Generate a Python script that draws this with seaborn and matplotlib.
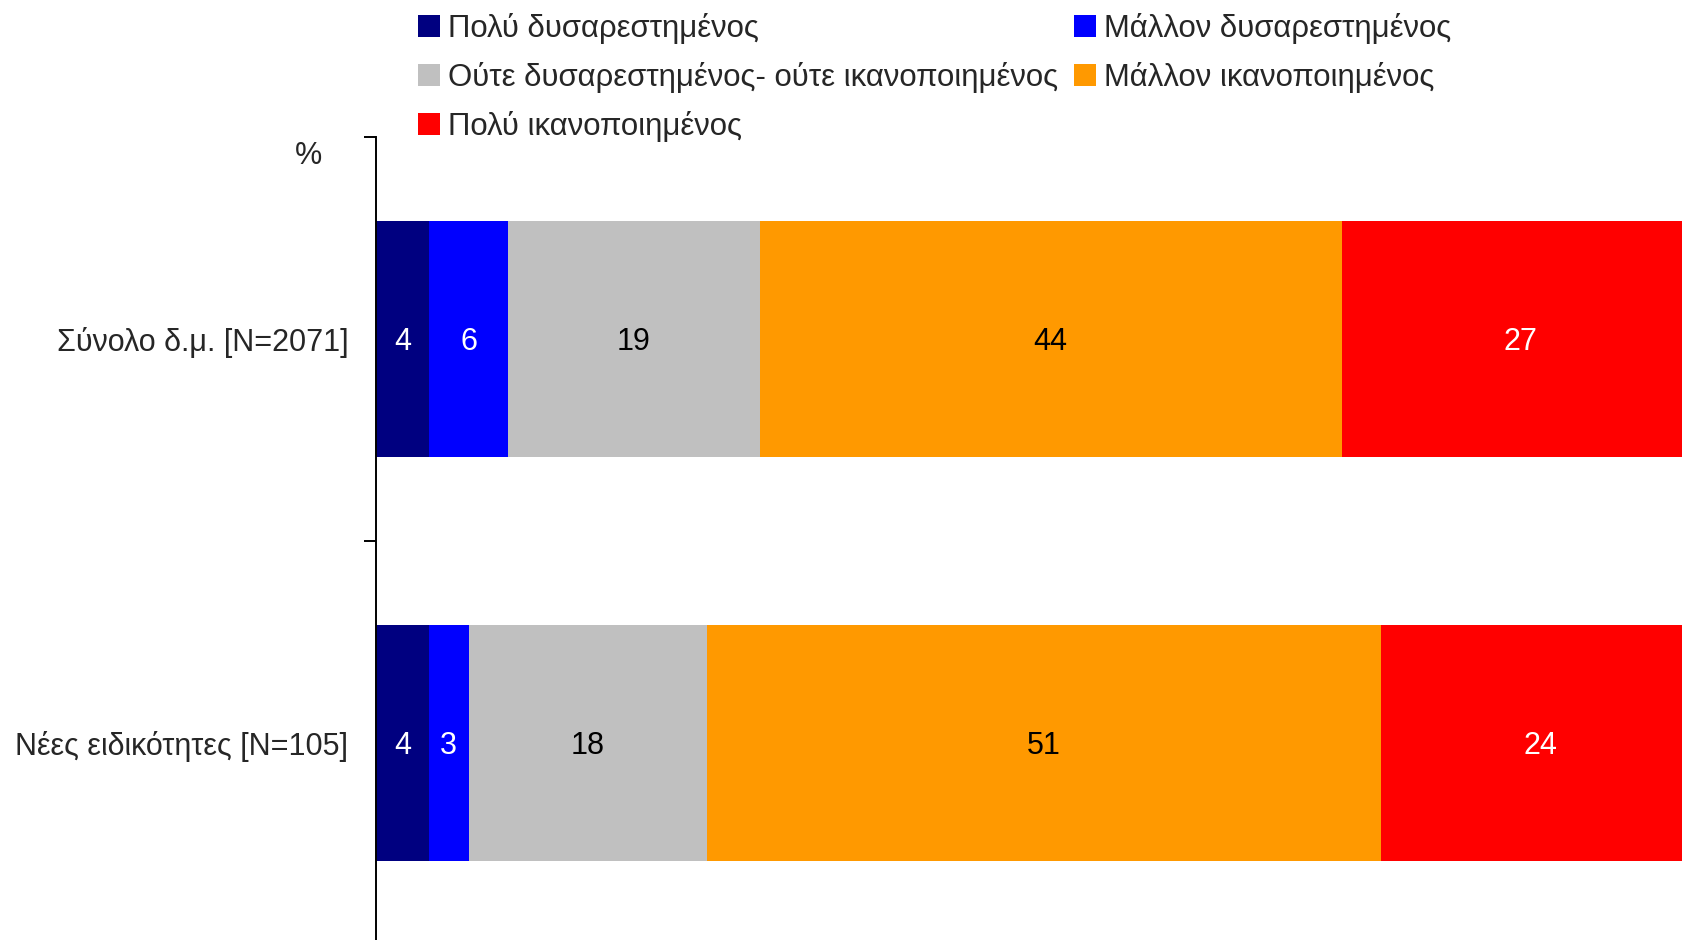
import matplotlib
matplotlib.use("Agg")
import matplotlib.pyplot as plt
from matplotlib.patches import Patch
import numpy as np
import pandas as pd
import seaborn as sns

categories = ["Σύνολο δ.μ. [N=2071]", "Νέες ειδικότητες [N=105]"]
levels = ["Πολύ δυσαρεστημένος", "Μάλλον δυσαρεστημένος",
          "Ούτε δυσαρεστημένος- ούτε ικανοποιημένος",
          "Μάλλον ικανοποιημένος", "Πολύ ικανοποιημένος"]
very_dissatisfied = [4, 4]
rather_dissatisfied = [6, 3]
neither = [19, 18]
rather_satisfied = [44, 51]
very_satisfied = [27, 24]
colors = ["#000080", "#0000FF", "#C0C0C0", "#FF9900", "#FF0000"]
label_colors = ["white", "white", "black", "black", "white"]

series = [very_dissatisfied, rather_dissatisfied, neither, rather_satisfied, very_satisfied]
df = pd.DataFrame({lvl: vals for lvl, vals in zip(levels, series)})
df.insert(0, "category", categories)
cum = df[levels].cumsum(axis=1)
cum.insert(0, "category", categories)

sns.set_theme(style="white")
plt.rcParams["font.family"] = ["Liberation Sans", "DejaVu Sans"]
FS = 22

fig = plt.figure(figsize=(16.83, 9.40), dpi=100)
ax = fig.add_axes([376 / 1683, -5 / 940, 1323 / 1683, 808 / 940])

# draw cumulative totals from the largest down so each segment shows
for lvl, col in reversed(list(zip(levels, colors))):
    sns.barplot(data=cum, x=lvl, y="category", order=categories, color=col,
                saturation=1, width=0.584, orient="h", ax=ax,
                linewidth=0, edgecolor="none")

# segment labels
for i, cat in enumerate(categories):
    left = 0
    for lvl, tc in zip(levels, label_colors):
        v = df.loc[i, lvl]
        ax.annotate(f"{v:g}", xy=(left + v / 2, i), xytext=(0, -2.3),
                    textcoords="offset points", ha="center", va="center",
                    color=tc, fontsize=FS)
        left += v

ax.set_xlim(0, 100)
ax.set_ylim(1.5, -0.5)
ax.set_xlabel("")
ax.set_ylabel("")
ax.set_xticks([])
ax.set_yticks([-0.5, 0.5, 1.5])
ax.set_yticklabels([])
ax.set_yticks([0, 1], minor=True)
ax.set_yticklabels(categories, minor=True, fontsize=FS)
ax.tick_params(axis="y", which="major", direction="out", length=8.6, width=1.4,
               color="black", left=True)
ax.tick_params(axis="y", which="minor", length=0, pad=20, left=True)
for s in ["top", "right", "bottom"]:
    ax.spines[s].set_visible(False)
ax.spines["left"].set_color("black")
ax.spines["left"].set_linewidth(1.4)
ax.grid(False)

fig.text(309 / 1683, 1 - 156 / 940, "%", ha="center", va="center", fontsize=FS)

handles = [Patch(facecolor=c, edgecolor="none") for c in colors]
order = [0, 2, 4, 1, 3]
fig.legend([handles[k] for k in order], [levels[k] for k in order],
           ncol=2, loc="upper left", bbox_to_anchor=(418 / 1683, 1 - 13 / 940),
           frameon=False, fontsize=22.4, handlelength=0.72, handleheight=0.72,
           handletextpad=0.25, columnspacing=0.5, labelspacing=0.58,
           borderpad=0, borderaxespad=0)

fig.savefig("out.png", dpi=100)
